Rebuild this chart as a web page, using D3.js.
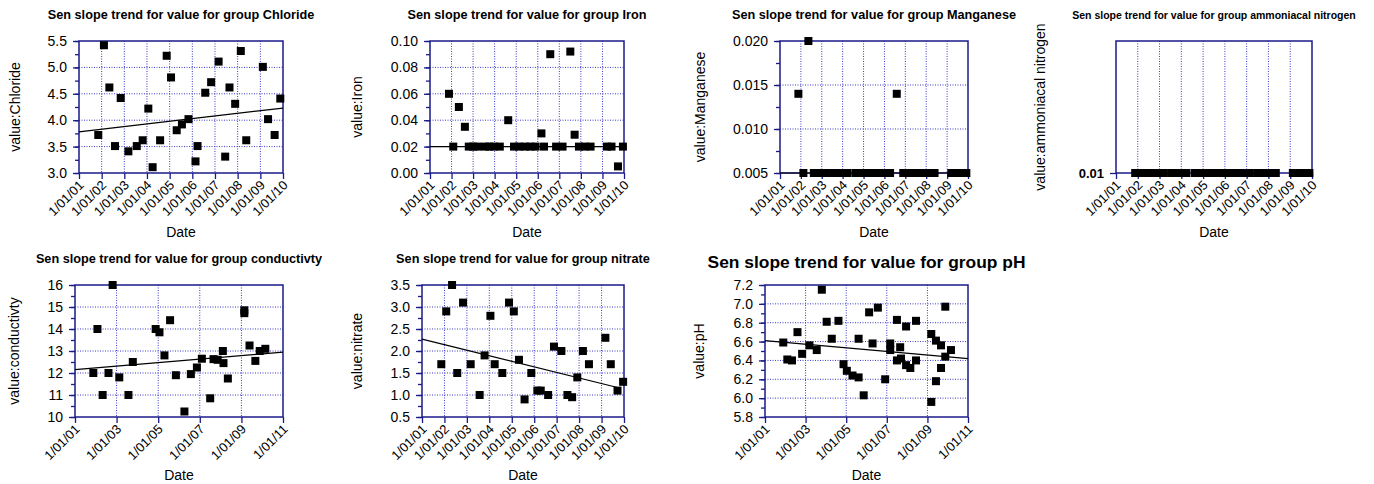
<!DOCTYPE html>
<html><head><meta charset="utf-8">
<script src="https://cdn.jsdelivr.net/npm/d3@7"></script>
<style>
html,body{margin:0;padding:0;background:#fff;}
svg{display:block;font-family:Arial,"Liberation Sans",sans-serif;}
</style></head>
<body>
<svg id="chart" width="1374" height="484"></svg>
<script>
// ---------- DATA (dates as decimal years) ----------
const chlorideDates = [2001.85,2002.10,2002.34,2002.59,2002.84,2003.18,2003.55,2003.81,2004.06,2004.25,2004.58,2004.87,2005.06,2005.31,2005.54,2005.83,2006.14,2006.23,2006.57,2006.83,2007.16,2007.45,2007.64,2007.89,2008.14,2008.38,2009.11,2009.34,2009.63,2009.88];
const chlorideValues = [3.72,5.42,4.62,3.51,4.42,3.41,3.51,3.62,4.22,3.11,3.62,5.22,4.81,3.81,3.92,4.02,3.22,3.51,4.52,4.72,5.11,3.31,4.62,4.31,5.31,3.62,5.01,4.02,3.72,4.41];
const chlorideTrend = [3.78, 4.23];

const ironDates = [2001.88,2002.08,2002.34,2002.62,2002.80,2003.00,2003.20,2003.55,2003.75,2003.96,2004.24,2004.63,2004.90,2005.12,2005.40,2005.66,2005.90,2006.17,2006.29,2006.58,2006.85,2007.15,2007.51,2007.71,2007.91,2008.18,2008.45,2009.21,2009.42,2009.72,2009.95];
const ironValues = [0.06,0.02,0.05,0.035,0.02,0.02,0.02,0.02,0.02,0.02,0.02,0.04,0.02,0.02,0.02,0.02,0.02,0.03,0.02,0.09,0.02,0.02,0.092,0.029,0.02,0.02,0.02,0.02,0.02,0.005,0.02];
const ironTrend = [0.02, 0.02];

const manganeseDates = [2001.88,2002.12,2002.36,2002.62,2002.80,2003.00,2003.20,2003.55,2003.75,2003.96,2004.24,2004.63,2004.90,2005.12,2005.40,2005.66,2005.90,2006.17,2006.27,2006.59,2006.90,2007.15,2007.45,2007.71,2007.91,2008.18,2008.40,2009.20,2009.42,2009.70,2009.92];
const manganeseValues = [0.014,0.005,0.020,0.005,0.005,0.005,0.005,0.005,0.005,0.005,0.005,0.005,0.005,0.005,0.005,0.005,0.005,0.005,0.005,0.014,0.005,0.005,0.005,0.005,0.005,0.005,0.005,0.005,0.005,0.005,0.005];
const manganeseTrend = [0.005, 0.005];

const ammoniaDates = [2001.88,2002.08,2002.34,2002.62,2002.80,2003.00,2003.20,2003.55,2003.75,2003.96,2004.24,2004.63,2004.90,2005.12,2005.40,2005.66,2005.90,2006.17,2006.29,2006.58,2006.85,2007.15,2007.51,2007.71,2007.91,2008.18,2008.34,2009.12,2009.35,2009.60,2009.88];
const ammoniaValues = [0.01,0.01,0.01,0.01,0.01,0.01,0.01,0.01,0.01,0.01,0.01,0.01,0.01,0.01,0.01,0.01,0.01,0.01,0.01,0.01,0.01,0.01,0.01,0.01,0.01,0.01,0.01,0.01,0.01,0.01,0.01];

const conductDates = [2001.88,2002.08,2002.33,2002.61,2002.81,2003.13,2003.57,2003.78,2004.88,2005.06,2005.30,2005.57,2005.85,2006.26,2006.57,2006.86,2007.10,2007.50,2007.66,2007.86,2008.11,2008.14,2008.35,2009.14,2009.14,2009.39,2009.67,2009.88,2010.15];
const conductValues = [12.0,14.0,11.0,12.0,16.0,11.8,11.0,12.5,14.0,13.85,12.8,14.4,11.9,10.25,11.95,12.25,12.65,10.85,12.63,12.6,13.0,12.45,11.75,14.85,14.72,13.25,12.55,13.0,13.1];
const conductTrend = [12.15, 12.95];

const nitrateDates = [2001.86,2002.08,2002.34,2002.57,2002.83,2003.17,2003.57,2003.79,2004.05,2004.24,2004.58,2004.88,2005.09,2005.32,2005.57,2005.87,2006.14,2006.29,2006.62,2006.88,2007.21,2007.48,2007.69,2007.92,2008.17,2008.44,2009.17,2009.41,2009.71,2009.96];
const nitrateValues = [1.7,2.9,3.5,1.5,3.1,1.7,1.0,1.9,2.8,1.7,1.5,3.1,2.9,1.8,0.9,1.5,1.1,1.1,1.0,2.1,2.0,1.0,0.95,1.4,2.0,1.7,2.3,1.7,1.1,1.3];
const nitrateTrend = [2.27, 1.16];
const nitrateTrendEnd = 2009.8;

const phDates = [2001.90,2002.10,2002.33,2002.60,2002.83,2003.19,2003.55,2003.80,2004.04,2004.29,2004.62,2004.87,2005.03,2005.31,2005.61,2005.61,2005.86,2006.13,2006.30,2006.56,2006.92,2007.17,2007.17,2007.50,2007.50,2007.66,2007.70,2007.95,2007.95,2008.16,2008.44,2008.44,2009.19,2009.19,2009.42,2009.42,2009.67,2009.67,2009.88,2009.88,2010.16];
const phValues = [6.59,6.41,6.40,6.70,6.47,6.56,6.51,7.15,6.81,6.63,6.82,6.36,6.29,6.24,6.22,6.63,6.03,6.91,6.58,6.96,6.20,6.58,6.51,6.83,6.40,6.54,6.42,6.76,6.35,6.32,6.82,6.40,6.68,5.96,6.18,6.61,6.56,6.32,6.44,6.97,6.51];
const phTrend = [6.61, 6.42];

// axis ticks
const chlorideTicks = [3.0,3.5,4.0,4.5,5.0,5.5];
const ironTicks = [0.00,0.02,0.04,0.06,0.08,0.10];
const manganeseTicks = [0.005,0.010,0.015,0.020];
const ammoniaTicks = [0.01];
const conductTicks = [10,11,12,13,14,15,16];
const nitrateTicks = [0.5,1.0,1.5,2.0,2.5,3.0,3.5];
const phTicks = [5.8,6.0,6.2,6.4,6.6,6.8,7.0,7.2];

// ---------- DRAWING ----------
const svg = d3.select("#chart");
const NAVY = "#1a1a8a", GRID = "#3a3ac8";
const FONT = "Arial,'Liberation Sans',sans-serif";
function yd(v){ const y=Math.floor(v); return new Date(Date.UTC(y,0,1) + (v-y)*365.25*864e5); }
const fmtDate = d3.utcFormat("%-d/%m/%y");

function drawPanel(p){
  const g = svg.append("g");
  const x = d3.scaleUtc().domain([yd(p.x0), yd(p.x1)]).range([p.l, p.r]);
  const y = d3.scaleLinear().domain(p.yDomain).range([p.b, p.t]);
  const xt = d3.range(p.x0, p.x1 + 0.5, p.xStep).map(yd);

  // grid
  g.append("g").selectAll("line").data(xt.slice(1, -1)).join("line")
    .attr("x1", d=>x(d)).attr("x2", d=>x(d)).attr("y1", p.t).attr("y2", p.b)
    .attr("stroke", GRID).attr("stroke-width", 1).attr("stroke-dasharray", "1,1.5");
  if (p.hGrid) g.append("g").selectAll("line").data(p.yTicks.slice(1, -1)).join("line")
    .attr("x1", p.l).attr("x2", p.r).attr("y1", d=>y(d)).attr("y2", d=>y(d))
    .attr("stroke", GRID).attr("stroke-width", 1).attr("stroke-dasharray", "1,1.5");

  // minor y ticks
  if (p.yMinor) {
    const gm = g.append("g").attr("transform", `translate(${p.l},0)`)
      .call(d3.axisLeft(y).tickValues(p.yMinor).tickSize(4).tickFormat(""));
    gm.select(".domain").remove();
    gm.selectAll("line").attr("stroke", NAVY).attr("stroke-width", 1.3);
  }
  // y axis
  const gy = g.append("g").attr("transform", `translate(${p.l},0)`)
    .call(d3.axisLeft(y).tickValues(p.yTicks).tickSize(6).tickPadding(6).tickFormat(d3.format(p.yFmt)));
  gy.select(".domain").remove();
  gy.selectAll("line").attr("stroke", NAVY).attr("stroke-width", 1.3);
  gy.selectAll("text").attr("fill", "#000").style("font-size", p.yTickBold ? "13px" : "14px")
    .style("font-weight", p.yTickBold ? "bold" : "normal").style("font-family", FONT);

  // x axis
  const gx = g.append("g").attr("transform", `translate(0,${p.b})`)
    .call(d3.axisBottom(x).tickValues(xt).tickSize(6).tickFormat(fmtDate));
  gx.select(".domain").remove();
  gx.selectAll("line").attr("stroke", NAVY).attr("stroke-width", 1.3);
  gx.selectAll("text").attr("fill", "#000").style("font-size", "13px")
    .style("font-family", FONT)
    .attr("text-anchor", "end").attr("y", 0).attr("dy", 0)
    .attr("transform", "translate(5,13) rotate(-45)");

  // frame
  g.append("rect").attr("x", p.l).attr("y", p.t).attr("width", p.r - p.l).attr("height", p.b - p.t)
    .attr("fill", "none").attr("stroke", NAVY).attr("stroke-width", 1.5);

  // trend
  if (p.trend) g.append("line")
    .attr("x1", x(yd(p.x0))).attr("y1", y(p.trend[0]))
    .attr("x2", x(yd(p.trendEnd))).attr("y2", y(p.trend[1]))
    .attr("stroke", "#000").attr("stroke-width", 1.2);

  // points
  const pts = p.dates.map((d,i)=>({d:yd(d), v:p.values[i]}));
  g.append("g").selectAll("rect").data(pts).join("rect")
    .attr("x", d=>x(d.d)-4).attr("y", d=>y(d.v)-4).attr("width", 8).attr("height", 8).attr("fill", "#000");

  // titles
  g.append("text").attr("x", (p.l+p.r)/2).attr("y", p.titleY).attr("text-anchor", "middle")
    .style("font-size", p.titleSize+"px").style("font-weight", "bold").text(p.title);
  g.append("text").attr("x", (p.l+p.r)/2).attr("y", p.dateY).attr("text-anchor", "middle")
    .style("font-size", "14px").text("Date");
  g.append("text").attr("transform", `translate(${p.ylx},${(p.t+p.b)/2}) rotate(-90)`)
    .attr("text-anchor", "middle").style("font-size", "14px").text(p.ylabel);
}

const minor = (a,b,s)=>d3.range(Math.round((b-a)/s)+1).map(i=>+(a+i*s).toFixed(5));

const panels = [
  {title:"Sen slope trend for value for group Chloride", titleSize:12.7, ylabel:"value:Chloride",
   dates:chlorideDates, values:chlorideValues, trend:chlorideTrend, trendEnd:2010,
   x0:2001, x1:2010, xStep:1, yDomain:[3.0,5.5], yTicks:chlorideTicks, yMinor:minor(3.0,5.5,0.25), yFmt:".1f", hGrid:true,
   l:79, r:283, t:41, b:173, titleY:19, dateY:237, ylx:20},
  {title:"Sen slope trend for value for group Iron", titleSize:12.7, ylabel:"value:Iron",
   dates:ironDates, values:ironValues, trend:ironTrend, trendEnd:2010,
   x0:2001, x1:2010, xStep:1, yDomain:[0,0.10], yTicks:ironTicks, yMinor:minor(0,0.10,0.01), yFmt:".2f", hGrid:true,
   l:430, r:624, t:41, b:173, titleY:19, dateY:237, ylx:362},
  {title:"Sen slope trend for value for group Manganese", titleSize:12.7, ylabel:"value:Manganese",
   dates:manganeseDates, values:manganeseValues, trend:manganeseTrend, trendEnd:2010,
   x0:2001, x1:2010, xStep:1, yDomain:[0.005,0.020], yTicks:manganeseTicks, yMinor:minor(0.005,0.020,0.0025), yFmt:".3f", hGrid:true,
   l:780, r:968, t:41, b:173, titleY:19, dateY:237, ylx:705},
  {title:"Sen slope trend for value for group ammoniacal nitrogen", titleSize:10.5, ylabel:"value:ammoniacal nitrogen",
   dates:ammoniaDates, values:ammoniaValues, trend:null, trendEnd:2010,
   x0:2001, x1:2010, xStep:1, yDomain:[0.01,0.02], yTicks:ammoniaTicks, yMinor:null, yFmt:".2f", hGrid:false, yTickBold:true,
   l:1116, r:1312, t:41, b:173, titleY:19, dateY:237, ylx:1045},
  {title:"Sen slope trend for value for group conductivty", titleSize:12.7, ylabel:"value:conductivty",
   dates:conductDates, values:conductValues, trend:conductTrend, trendEnd:2011,
   x0:2001, x1:2011, xStep:2, yDomain:[10,16], yTicks:conductTicks, yMinor:minor(10,16,0.5), yFmt:"d", hGrid:true,
   l:75, r:283, t:285, b:417, titleY:263, dateY:480, ylx:19},
  {title:"Sen slope trend for value for group nitrate", titleSize:12.7, ylabel:"value:nitrate",
   dates:nitrateDates, values:nitrateValues, trend:nitrateTrend, trendEnd:nitrateTrendEnd,
   x0:2001, x1:2010, xStep:1, yDomain:[0.5,3.5], yTicks:nitrateTicks, yMinor:minor(0.5,3.5,0.25), yFmt:".1f", hGrid:true,
   l:422, r:624, t:285, b:417, titleY:263, dateY:480, ylx:362},
  {title:"Sen slope trend for value for group pH", titleSize:17.4, ylabel:"value:pH",
   dates:phDates, values:phValues, trend:phTrend, trendEnd:2011,
   x0:2001, x1:2011, xStep:2, yDomain:[5.8,7.2], yTicks:phTicks, yMinor:minor(5.8,7.2,0.1), yFmt:".1f", hGrid:true,
   l:765, r:968, t:285, b:417, titleY:268, dateY:480, ylx:704}
];
panels.forEach(drawPanel);
</script>
</body></html>
